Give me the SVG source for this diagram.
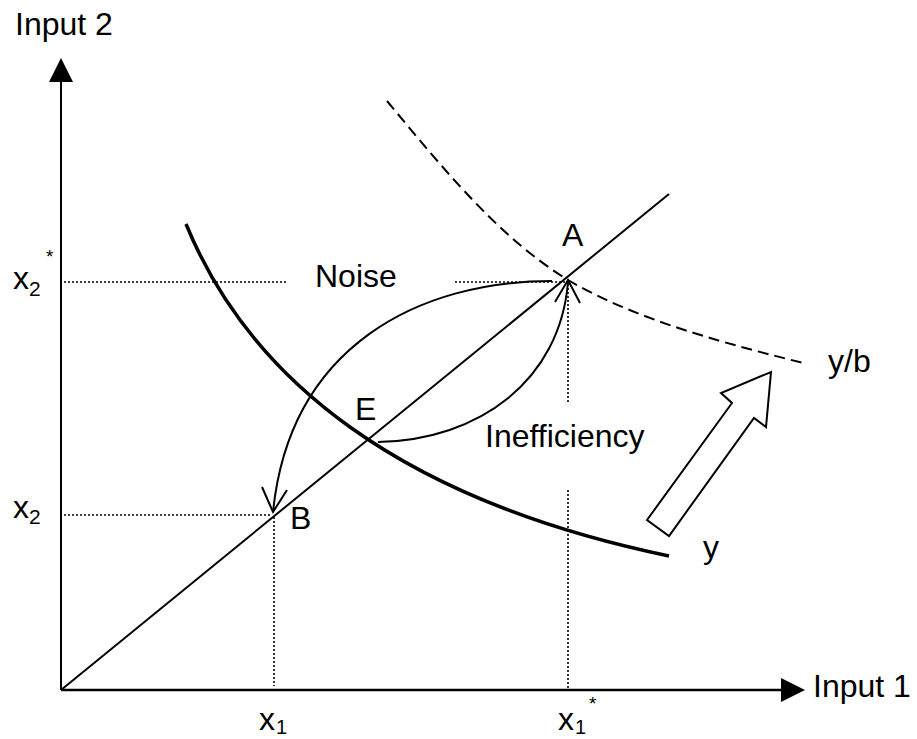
<svg xmlns="http://www.w3.org/2000/svg" width="917" height="739" viewBox="0 0 917 739">
<style>
text{font-family:"Liberation Sans",Arial,sans-serif;font-size:32px;fill:#000}
.sub{font-size:21px}
.sub1{font-size:20px}
.star{font-size:19px}
.thin{fill:none;stroke:#000;stroke-width:2}
.dot{fill:none;stroke:#000;stroke-width:1.6;stroke-dasharray:2,2}
</style>
<rect width="917" height="739" fill="#fff"/>
<g id="axes">
<line x1="61" y1="690" x2="61" y2="80" stroke="#000" stroke-width="2"/>
<polygon points="49,82 73,82 61,58" fill="#000"/>
<line x1="61" y1="690" x2="783" y2="690" stroke="#000" stroke-width="2.7"/>
<polygon points="781,678 781,702 805,690" fill="#000"/>
</g>
<g id="guides">
<line class="dot" x1="64" y1="282" x2="288" y2="282"/>
<line class="dot" x1="455" y1="282" x2="566" y2="282"/>
<line class="dot" x1="64" y1="515" x2="272" y2="515"/>
<line class="dot" x1="274" y1="517" x2="274" y2="686"/>
<line class="dot" x1="568" y1="284" x2="568" y2="404"/>
<line class="dot" x1="568" y1="490" x2="568" y2="688"/>
</g>
<g id="ray">
<line class="thin" x1="61" y1="690" x2="669" y2="194"/>
</g>
<g id="isoquant-y">
<path d="M186,224 C250,380 400,500 669,556" fill="none" stroke="#000" stroke-width="3.5"/>
</g>
<g id="isoquant-yb">
<path d="M387,101 C442,167 498,237 568,280 C640,322 732,345 807,364" fill="none" stroke="#000" stroke-width="2" stroke-dasharray="11,6"/>
</g>
<g id="connectors">
<path class="thin" d="M552,281 C420,281 290,345 273,512"/>
<polyline class="thin" points="262,487 273,512 287,490"/>
<path class="thin" d="M378,442 C480,440 560,380 568,282"/>
<polyline class="thin" points="555,302 568,280 580,303"/>
<polygon points="647,520 732,403 721,393 771,372 766,427 754,418 669,536" fill="#fff" stroke="#000" stroke-width="2" stroke-linejoin="miter"/>
</g>
<g id="labels">
<text x="15" y="35">Input 2</text>
<text x="813" y="697">Input 1</text>
<text x="315" y="287">Noise</text>
<text x="562" y="246">A</text>
<text x="355" y="420">E</text>
<text x="485" y="447">Inefficiency</text>
<text x="290" y="529">B</text>
<text x="828" y="372">y/b</text>
<text x="703" y="558">y</text>
<text x="13" y="289">x</text><text class="sub" x="29" y="296">2</text><text class="star" x="46" y="263">*</text>
<text x="13" y="518">x</text><text class="sub" x="29" y="524">2</text>
<text x="259" y="730">x</text><text class="sub1" x="276" y="734">1</text>
<text x="558" y="730">x</text><text class="sub1" x="575" y="734">1</text><text class="star" x="589" y="710">*</text>
</g>
</svg>
